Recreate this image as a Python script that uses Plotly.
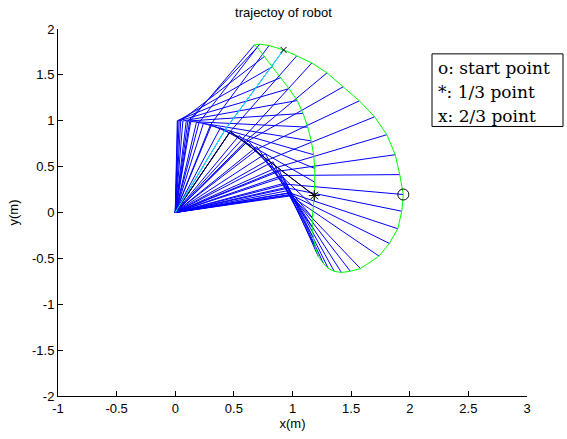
import math
import plotly.graph_objects as go

# link lengths of the two-link arm (m)
L1 = 1.0
L2 = 1.0

# end-effector positions read along the green path (start -> 1/3 -> 2/3 -> back to start)
end_x = [1.945, 1.932, 1.898, 1.826, 1.738, 1.580, 1.493, 1.418, 1.356, 1.305, 1.263, 1.220,
         1.195, 1.178, 1.169, 1.169, 1.178,
         1.186, 1.190, 1.190, 1.180, 1.160, 1.130, 1.090, 1.040, 0.970, 0.900, 0.830, 0.760,
         0.700, 0.675, 0.720, 0.800,
         0.924, 1.036, 1.165, 1.294, 1.432, 1.570, 1.700, 1.805, 1.876, 1.915]
end_y = [0.196, 0.014, -0.177, -0.337, -0.475, -0.612, -0.640, -0.654, -0.641, -0.609, -0.554, -0.478,
         -0.380, -0.272, -0.163, -0.054, 0.065,
         0.185, 0.330, 0.480, 0.630, 0.780, 0.930, 1.080, 1.220, 1.350, 1.470, 1.590, 1.700,
         1.800, 1.826, 1.835, 1.820,
         1.772, 1.707, 1.630, 1.522, 1.370, 1.217, 1.043, 0.848, 0.630, 0.413]
idx_start = 0
idx_third = 17
idx_two_third = 33

legend_lines = ["o: start point", "*: 1/3 point", "x: 2/3 point"]


def elbow(x, y):
    r2 = x * x + y * y
    c2 = (r2 - L1 * L1 - L2 * L2) / (2 * L1 * L2)
    c2 = max(-1.0, min(1.0, c2))
    t2 = -math.acos(c2)
    t1 = math.atan2(y, x) - math.atan2(L2 * math.sin(t2), L1 + L2 * math.cos(t2))
    return L1 * math.cos(t1), L1 * math.sin(t1)


bx, by = [], []
for x, y in zip(end_x, end_y):
    ex, ey = elbow(x, y)
    bx += [0, ex, x, None]
    by += [0, ey, y, None]

fig = go.Figure()
fig.add_trace(go.Scatter(x=bx, y=by, mode="lines", line=dict(color="#0000ff", width=1),
                         hoverinfo="skip", showlegend=False))
fig.add_trace(go.Scatter(x=end_x + [end_x[0]], y=end_y + [end_y[0]], mode="lines",
                         line=dict(color="#00ff00", width=1), showlegend=False))

for i, col in [(idx_third, "black"), (idx_two_third, "#00ffff")]:
    ex, ey = elbow(end_x[i], end_y[i])
    fig.add_trace(go.Scatter(x=[0, ex, end_x[i]], y=[0, ey, end_y[i]], mode="lines",
                             line=dict(color=col, width=1), showlegend=False))

fig.add_trace(go.Scatter(x=[end_x[idx_start]], y=[end_y[idx_start]], mode="markers",
                         marker=dict(symbol="circle-open", size=11, color="black", line=dict(width=1)),
                         showlegend=False))
fig.add_trace(go.Scatter(x=[end_x[idx_third]], y=[end_y[idx_third]], mode="markers",
                         marker=dict(symbol="asterisk-open", size=9, color="black", line=dict(width=1)),
                         showlegend=False))
fig.add_trace(go.Scatter(x=[end_x[idx_two_third]], y=[end_y[idx_two_third]], mode="markers",
                         marker=dict(symbol="x-thin-open", size=6, color="black", line=dict(width=1)),
                         showlegend=False))

L, R, T, B = 58, 40, 29, 41
W, H = 567, 439
pw, ph = W - L - R, H - T - B


def px(xp):
    return (xp - L) / pw


def py(yp):
    return (H - B - yp) / ph


FONT = "Liberation Sans, Arial"
axis_common = dict(showgrid=False, zeroline=False, showline=True, linecolor="black", linewidth=1,
                   ticks="inside", ticklen=5, tickcolor="black", tickwidth=1,
                   tickfont=dict(family=FONT, size=13, color="black"))

fig.update_layout(
    width=W, height=H,
    margin=dict(l=L, r=R, t=T, b=B, pad=0),
    paper_bgcolor="white", plot_bgcolor="white",
    title=dict(text="trajectoy of robot", x=px(292.5), xanchor="center", y=1 - 12 / H, yanchor="middle",
               font=dict(family=FONT, size=13, color="black")),
    xaxis=dict(range=[-1, 3], tickvals=[-1, -0.5, 0, 0.5, 1, 1.5, 2, 2.5, 3],
               ticktext=["-1", "-0.5", "0", "0.5", "1", "1.5", "2", "2.5", "3"],
               title=dict(text="x(m)", font=dict(family=FONT, size=13, color="black"), standoff=2),
               **axis_common),
    yaxis=dict(range=[-2, 2], tickvals=[-2, -1.5, -1, -0.5, 0, 0.5, 1, 1.5, 2],
               ticktext=["-2", "-1.5", "-1", "-0.5", "0", "0.5", "1", "1.5", "2"],
               title=dict(text="y(m)", font=dict(family=FONT, size=13, color="black"), standoff=10),
               **axis_common),
    showlegend=False,
)

fig.add_shape(type="rect", xref="paper", yref="paper", x0=px(432), x1=px(563), y0=py(127), y1=py(54),
              line=dict(color="black", width=1), fillcolor="white", layer="above")
for k, txt in enumerate(legend_lines):
    fig.add_annotation(xref="paper", yref="paper", x=px(436), y=py(68 + 24 * k), xanchor="left",
                       yanchor="middle", text=txt, showarrow=False,
                       font=dict(family="DejaVu Serif", size=17, color="black"))

fig.write_html("out.html", config={"displayModeBar": False},
               post_script="document.body.style.margin='0';document.body.style.padding='0';")
